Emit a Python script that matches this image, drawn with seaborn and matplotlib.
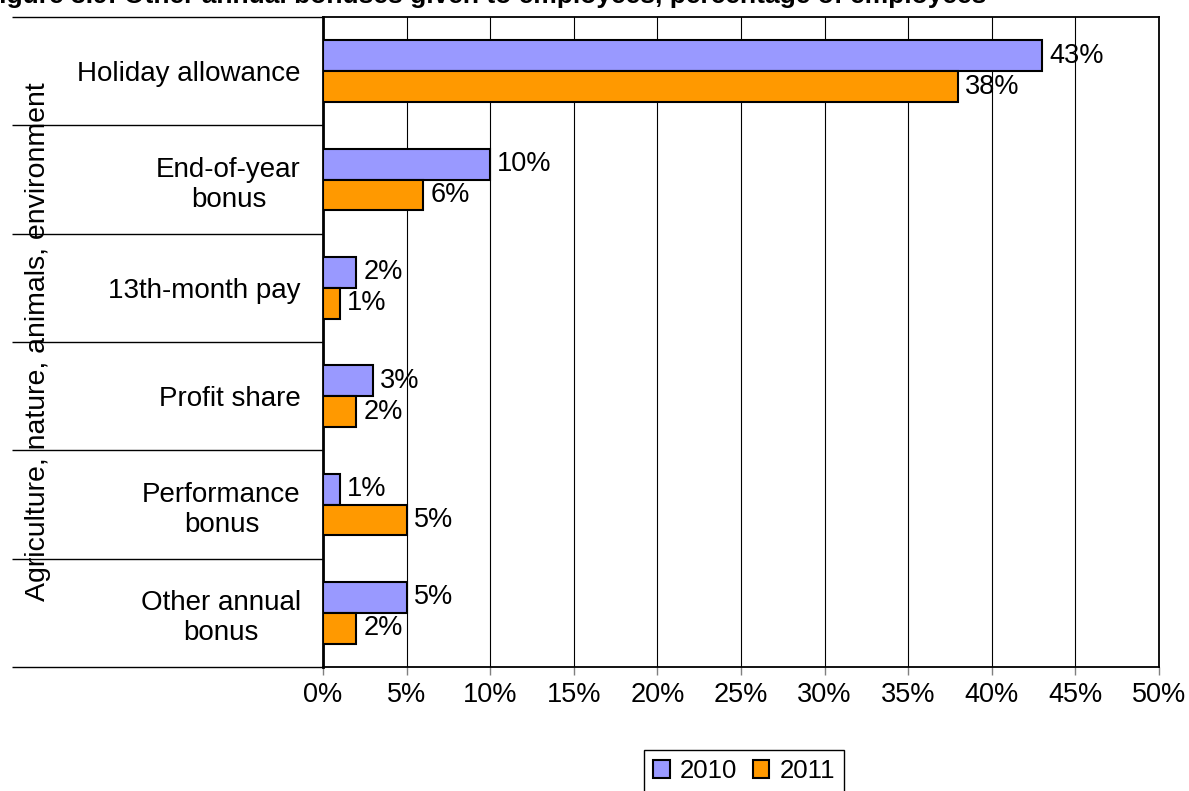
import numpy as np
import pandas as pd
import matplotlib
matplotlib.use("Agg")
import matplotlib.pyplot as plt
import seaborn as sns

# Data
categories = ["Holiday allowance", "End-of-year\nbonus", "13th-month pay",
              "Profit share", "Performance\nbonus", "Other annual\nbonus"]
values_2010 = [43, 10, 2, 3, 1, 5]
values_2011 = [38, 6, 1, 2, 5, 2]
years = ["2010", "2011"]
x_ticks = [0, 5, 10, 15, 20, 25, 30, 35, 40, 45, 50]
title = "Figure 3.9: Other annual bonuses given to employees, percentage of employees"
group_label = "Agriculture, nature, animals, environment"

df = pd.DataFrame({
    "category": categories * 2,
    "value": values_2010 + values_2011,
    "year": [years[0]] * len(categories) + [years[1]] * len(categories),
})

sns.set_theme(style="white")
plt.rcParams["font.family"] = ["Liberation Sans", "DejaVu Sans"]
plt.rcParams["text.color"] = "black"
plt.rcParams["xtick.color"] = "black"
plt.rcParams["ytick.color"] = "black"
plt.rcParams["axes.labelcolor"] = "black"

W, H = 1189, 791
fig = plt.figure(figsize=(W / 100, H / 100), dpi=100)
ax = fig.add_axes([323 / W, 1 - 667 / H, (1159 - 323) / W, (667 - 17) / H])

sns.barplot(data=df, y="category", x="value", hue="year", orient="h",
            palette=["#9999FF", "#FF9900"], edgecolor="black", linewidth=1.5,
            width=0.57, saturation=1, ax=ax, zorder=3)

fs = 20
for cont in ax.containers:
    ax.bar_label(cont, fmt="{:g}%", padding=5, fontsize=fs - 0.5, color="black")

ax.set_xlim(0, 50)
ax.set_xticks(x_ticks)
ax.set_xticklabels([f"{t}%" for t in x_ticks], fontsize=fs - 0.5)
ax.set_xlabel("")
ax.set_ylabel("")
ax.grid(axis="x", color="black", lw=0.8, zorder=0)
ax.set_axisbelow(True)

# Category labels and separators reaching out to the left
ax.set_yticks(range(len(categories)))
ax.set_yticklabels(categories, fontsize=fs, multialignment="center")
ax.tick_params(axis="y", which="major", length=0, pad=16, labelcolor="black")
ax.set_yticks(np.arange(-0.5, len(categories), 1.0), minor=True)
ax.tick_params(axis="y", which="minor", length=224, width=1, color="black",
               direction="out", left=True)
ax.tick_params(axis="x", which="major", length=6, width=1, color="#808080",
               direction="out", bottom=True, pad=5, labelcolor="black")

for side, sp in ax.spines.items():
    sp.set_visible(True)
    sp.set_color("black")
    sp.set_linewidth(1.3)
ax.spines["left"].set_linewidth(2)

fig.text(38 / W, 1 - 342 / H, group_label, rotation=90, ha="center",
         va="center", fontsize=fs + 0.5, color="black")

fig.text(-17 / W, 1 - 3 / H, title, fontweight="bold", fontsize=fs - 1,
         ha="left", va="baseline", color="black")

handles, labels = ax.get_legend_handles_labels()
leg = ax.legend(handles, labels, loc="upper center", ncol=2,
                bbox_to_anchor=(744 / W, 1 - 750 / H),
                bbox_transform=fig.transFigure, fontsize=18.5,
                frameon=True, fancybox=False, framealpha=1,
                edgecolor="black", handlelength=0.65, handleheight=0.65,
                handletextpad=0.4, columnspacing=0.6, borderpad=0.35,
                borderaxespad=0, labelcolor="black")
leg.get_frame().set_linewidth(1)

fig.savefig("out.png", dpi=100)
